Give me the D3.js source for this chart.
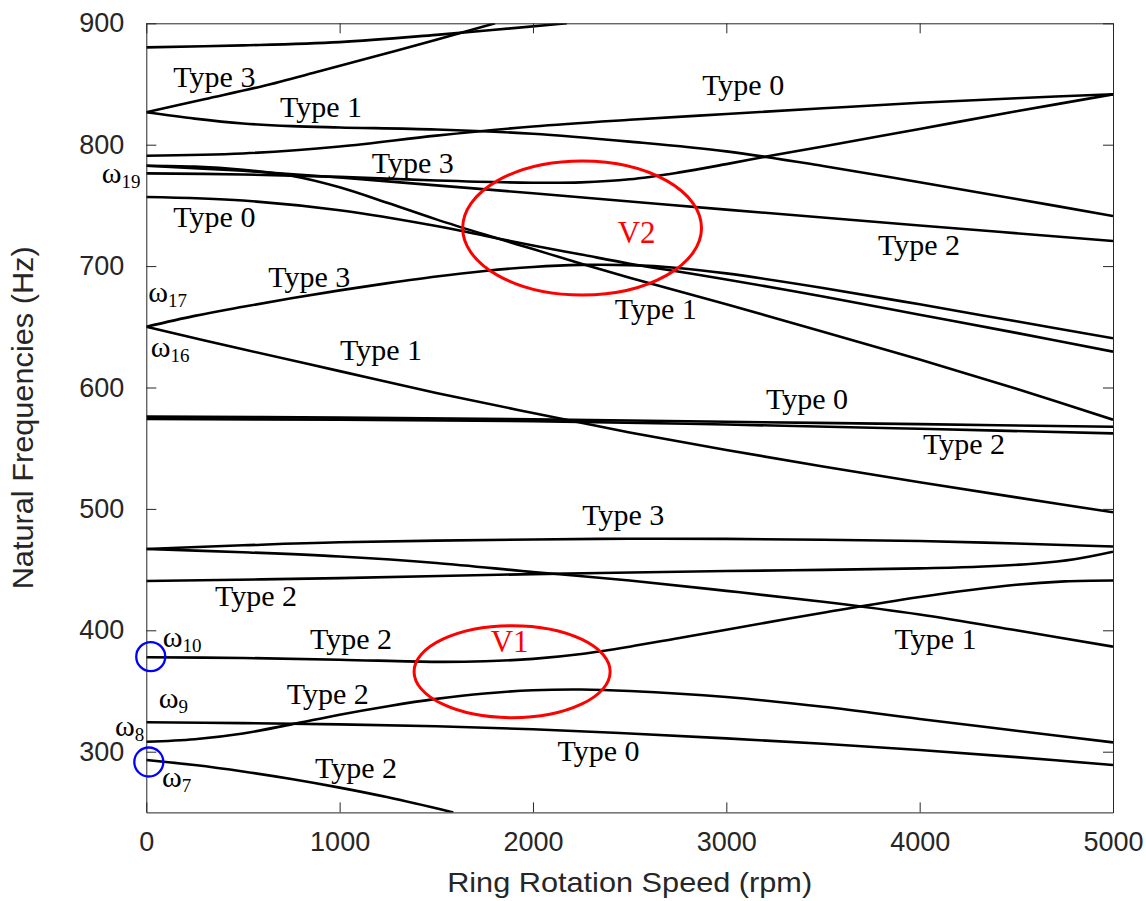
<!DOCTYPE html>
<html><head><meta charset="utf-8">
<script src="https://cdn.jsdelivr.net/npm/d3@7"></script>
<style>body{margin:0;background:#fff}svg{display:block}</style>
</head><body>
<svg id="chart" width="1146" height="901"></svg>
<script>
// ---------- data (rpm, Hz) ----------
const xTicks = [0, 1000, 2000, 3000, 4000, 5000];
const yTicks = [300, 400, 500, 600, 700, 800, 900];

const curve01 = [[0,293.2],[250,289],[500,283.7],[750,277.5],[1000,270.4],[1250,262.4],[1588,250]];
const curve02 = [[0,308.2],[250,310.3],[500,315],[750,322.5],[1000,330.5],[1250,337.5],[1500,343.5],[1750,348],[2000,350.6],[2250,351.2],[2500,350],[3000,345],[3500,337],[4000,327],[4500,317.3],[5000,307.7]];
const curve03 = [[0,324.2],[500,323.5],[1000,322.5],[1500,321],[2000,318.5],[2500,315],[3000,311],[3500,306.5],[4000,301.4],[4500,295.5],[5000,289]];
const curve04 = [[0,377.8],[500,377.2],[1000,375.8],[1500,374],[1750,374.5],[2000,376.5],[2250,380.5],[2500,386.5],[2750,393.5],[3000,400.5],[3500,414.5],[4000,427.5],[4500,437.5],[4750,440.3],[5000,441]];
const curve05 = [[0,440.6],[1000,443],[2000,446.3],[3000,448.8],[3500,449.8],[4000,451],[4300,452.3],[4600,455],[4800,458.5],[5000,464.7]];
const curve06 = [[0,467],[500,464.3],[1000,460.8],[1500,455.5],[2000,448],[2500,441],[3000,432.5],[3500,423.5],[4000,413],[4500,400],[5000,386.5]];
const curve07 = [[0,467],[500,470],[1000,472.5],[2000,474.8],[2500,475.4],[3000,475.3],[4000,473.5],[4500,471.5],[5000,469]];
const curve08 = [[0,576],[1000,575.2],[2000,573.8],[3000,571.8],[4000,569.8],[5000,567.7]];
const curve09 = [[0,574],[1000,573.5],[2000,572.3],[3000,569.5],[4000,566],[5000,562.2]];
const curve10 = [[0,650],[500,631.5],[1000,613.5],[1500,595.5],[2000,579],[2500,563],[3000,548.5],[3500,535],[4000,522],[4500,509.5],[5000,497.2]];
const curve11 = [[0,650],[250,659],[500,666.5],[750,673.5],[1000,680],[1250,686],[1500,691.5],[1750,696],[2000,699.3],[2250,701],[2500,700.8],[2750,698.5],[3000,694],[3500,682],[4000,668.5],[4500,654.5],[5000,640.5]];
const curve12 = [[0,782.7],[250,782],[500,779.3],[750,774.5],[1000,765],[1250,752],[1500,738.5],[1750,726],[2000,714],[2250,702],[2500,690.5],[2750,679.5],[3000,668.5],[3500,646],[4000,623],[4500,599],[5000,573.5]];
const curve13 = [[0,756.9],[500,754],[1000,746],[1500,733],[1750,725],[2000,717],[2250,709.5],[2500,702],[2750,695.5],[3000,689],[3500,675],[4000,660],[4500,645],[5000,629.5]];
const curve14 = [[0,776.4],[500,775.5],[1000,773.5],[1500,770.5],[2000,768.7],[2250,769],[2500,771.5],[2750,777],[3000,784],[3250,791.5],[3500,798.5],[4000,813],[4500,827.5],[5000,841.5]];
const curve15 = [[0,782.7],[500,778.5],[1000,773],[1500,766.5],[2000,760],[3000,746.5],[4000,733.5],[5000,720.7]];
const curve16 = [[0,790.9],[500,792.8],[1000,798.5],[1500,807.5],[2000,815],[2500,820.5],[3000,825.3],[3500,830],[4000,834.5],[4500,838.3],[5000,841.5]];
const curve17 = [[0,826.7],[250,821.5],[500,817.5],[750,815.3],[1000,814.2],[1500,812.5],[2000,809],[2500,802.5],[3000,794.5],[3500,782.5],[4000,769],[4500,755.3],[5000,741.3]];
const curve18 = [[0,826.7],[300,837.5],[600,848.2],[900,860.7],[1200,873.5],[1500,886.5],[1804,900]];
const curve19 = [[0,880.2],[500,881.8],[1000,884.5],[1500,890.5],[2175,900]];

const curves = [curve01,curve02,curve03,curve04,curve05,curve06,curve07,curve08,curve09,curve10,
                curve11,curve12,curve13,curve14,curve15,curve16,curve17,curve18,curve19];

// annotation texts placed in data coordinates (rpm, Hz) = left / baseline
const typeLabels = [
  ["Type 3",140,847.3],["Type 1",692,823.1],["Type 0",2875,840.9],["Type 3",1166,776.9],
  ["Type 0",140,732.4],["Type 2",3785,709.1],["Type 3",631,683],["Type 1",2423,656.2],
  ["Type 1",1002,622.6],["Type 0",3205,582],["Type 2",4017,545.2],["Type 3",2255,486.7],
  ["Type 2",355,420],["Type 1",3870,384.3],["Type 2",847,384.3],["Type 2",726,339.3],
  ["Type 0",2127,292.3],["Type 2",873,278.1]
];
const veerLabels = [["V2",2438,718.8],["V1",1781,382.3]];
const omegaLabels = [["19",-231,768.7],["17",10,670.7],["16",23,625.4],["10",85,386],["9",64,335.7],["8",-162,312.9],["7",81,271.2]];
// veering-zone ellipses: centre rpm, centre Hz, half-width rpm, half-height Hz
const veerEllipses = [[2254,731.4,617.6,55.2],[1892,365.9,507,37.9]];
// marked points (rpm, Hz)
const markedPoints = [[23,378.3],[13,291.5]];

// ---------- drawing ----------
const svg = d3.select("#chart");
const X0 = 146.3, X1 = 1113, Y0 = 812.4, Y1 = 23.3;
const x = d3.scaleLinear().domain([0,5000]).range([X0,X1]);
const y = d3.scaleLinear().domain([250,900]).range([Y0,Y1]);

svg.append("defs").append("clipPath").attr("id","clip")
  .append("rect").attr("x",X0).attr("y",Y1).attr("width",X1-X0).attr("height",Y0-Y1);

const line = d3.line().x(d=>x(d[0])).y(d=>y(d[1])).curve(d3.curveCatmullRom.alpha(0.5));
svg.append("g").attr("clip-path","url(#clip)")
  .selectAll("path").data(curves).join("path")
  .attr("d",line).attr("fill","none").attr("stroke","#000").attr("stroke-width",2.6)
  .attr("stroke-linejoin","round");

// axes
const axCol = "#262626";
const sans = "'Liberation Sans', Arial, Helvetica, sans-serif";
function styleAxis(g){
  g.selectAll("path,line").attr("stroke",axCol).attr("stroke-width",1);
  g.selectAll("text").attr("fill",axCol).attr("font-family",sans).attr("font-size",27);
}
const fmt = d3.format("d");
svg.append("g").attr("transform",`translate(0,${Y0})`)
  .call(d3.axisBottom(x).tickValues(xTicks).tickFormat(fmt).tickSizeInner(-10).tickSizeOuter(0).tickPadding(19))
  .call(styleAxis);
svg.append("g").attr("transform",`translate(0,${Y1})`)
  .call(d3.axisTop(x).tickValues(xTicks).tickSizeInner(-10).tickSizeOuter(0).tickFormat(""))
  .call(styleAxis);
svg.append("g").attr("transform",`translate(${X0},0)`)
  .call(d3.axisLeft(y).tickValues(yTicks).tickFormat(fmt).tickSizeInner(-10).tickSizeOuter(0).tickPadding(22))
  .call(styleAxis);
svg.append("g").attr("transform",`translate(${X1},0)`)
  .call(d3.axisRight(y).tickValues(yTicks).tickSizeInner(-10).tickSizeOuter(0).tickFormat(""))
  .call(styleAxis);

// axis titles
svg.append("text").attr("x",(X0+X1)/2).attr("y",891.5).attr("text-anchor","middle")
  .attr("font-family",sans).attr("font-size",28).attr("fill",axCol)
  .attr("textLength",365).attr("lengthAdjust","spacingAndGlyphs")
  .text("Ring Rotation Speed (rpm)");
svg.append("text").attr("transform",`translate(33,${(Y0+Y1)/2}) rotate(-90)`)
  .attr("text-anchor","middle").attr("font-family",sans).attr("font-size",29).attr("fill",axCol)
  .attr("textLength",343).attr("lengthAdjust","spacingAndGlyphs")
  .text("Natural Frequencies (Hz)");

// ellipses & circles
svg.append("g").selectAll("ellipse").data(veerEllipses).join("ellipse")
  .attr("cx",d=>x(d[0])).attr("cy",d=>y(d[1]))
  .attr("rx",d=>x(d[0]+d[2])-x(d[0])).attr("ry",d=>y(d[1]-d[3])-y(d[1]))
  .attr("fill","none").attr("stroke","#ff0000").attr("stroke-width",3);
svg.append("g").selectAll("circle").data(markedPoints).join("circle")
  .attr("cx",d=>x(d[0])).attr("cy",d=>y(d[1])).attr("r",14.5)
  .attr("fill","none").attr("stroke","#0000ff").attr("stroke-width",2.3);

// labels
const serif = "'Liberation Serif', 'Times New Roman', Times, serif";
svg.append("g").selectAll("text").data(typeLabels).join("text")
  .attr("x",d=>x(d[1])).attr("y",d=>y(d[2]))
  .attr("font-family",serif).attr("font-size",30).attr("fill","#000").text(d=>d[0]);
svg.append("g").selectAll("text").data(veerLabels).join("text")
  .attr("x",d=>x(d[1])).attr("y",d=>y(d[2]))
  .attr("font-family",serif).attr("font-size",31).attr("fill","#ff0000").text(d=>d[0]);
const om = svg.append("g").selectAll("text").data(omegaLabels).join("text")
  .attr("x",d=>x(d[1])).attr("y",d=>y(d[2]))
  .attr("font-family",serif).attr("font-size",30).attr("fill","#000");
om.append("tspan").text("ω");
om.append("tspan").attr("dy",5).attr("font-size",19).text(d=>d[0]);
</script>
</body></html>
